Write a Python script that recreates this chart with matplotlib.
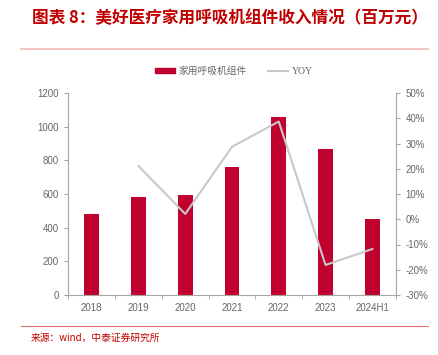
import matplotlib
matplotlib.use("Agg")
import matplotlib.pyplot as plt
from matplotlib.ticker import FuncFormatter
from matplotlib.lines import Line2D
import numpy as np

plt.rcParams['font.family'] = ['Liberation Sans', 'Noto Sans CJK SC']

# Data
years = ['2018', '2019', '2020', '2021', '2022', '2023', '2024H1']
revenue = [479, 580, 592, 762, 1057, 866, 450]        # 百万元
yoy = [None, 21.1, 2.1, 28.7, 38.7, -18.1, -11.8]       # %

BAR_COLOR = '#C0002F'
LINE_COLOR = '#C8C8C8'
AXIS_COLOR = '#A6A6A6'
TEXT_COLOR = '#666666'
RED = '#C00000'

fig = plt.figure(figsize=(4.39, 3.55), dpi=100)
ax = fig.add_axes([68.3 / 439, 60 / 355, 327.4 / 439, 202 / 355])
ax2 = ax.twinx()

x = np.arange(len(years))
ax.bar(x, revenue, width=0.32, color=BAR_COLOR, zorder=2)
ax.set_xlim(-0.5, len(years) - 0.5)
ax.set_ylim(0, 1200)
ax.set_yticks(range(0, 1201, 200))

yx = [i for i, v in enumerate(yoy) if v is not None]
yv = [v for v in yoy if v is not None]
ax2.plot(yx, yv, color=LINE_COLOR, lw=1.5, zorder=3)
ax2.set_ylim(-30, 50)
ax2.set_yticks(range(-30, 51, 10))
ax2.yaxis.set_major_formatter(FuncFormatter(lambda v, p: f'{int(v)}%'))

# x ticks: labels at centres, tick marks at category boundaries
ax.set_xticks(x)
ax.set_xticklabels(years)
ax.set_xticks(np.arange(-0.5, len(years), 1), minor=True)
ax.tick_params(axis='x', which='major', length=0, pad=6)
ax.tick_params(axis='x', which='minor', length=3, color=AXIS_COLOR)

for a in (ax, ax2):
    for s in a.spines.values():
        s.set_visible(False)
    a.tick_params(axis='y', length=3, color=AXIS_COLOR, labelsize=7,
                  labelcolor=TEXT_COLOR, pad=4)
    a.tick_params(axis='x', labelsize=7, labelcolor=TEXT_COLOR)
ax.spines['left'].set_visible(True)
ax.spines['bottom'].set_visible(True)
ax2.spines['right'].set_visible(True)
for s in (ax.spines['left'], ax.spines['bottom'], ax2.spines['right']):
    s.set_color(AXIS_COLOR)
    s.set_linewidth(0.8)

# legend
handles = [plt.Rectangle((0, 0), 1, 1, color=BAR_COLOR),
           Line2D([0], [0], color=LINE_COLOR, lw=1.5)]
fig.legend(handles, ['家用呼吸机组件', 'YOY'], loc='center',
           bbox_to_anchor=(234 / 439, 1 - 71 / 355), ncol=2, frameon=False,
           prop={'family': ['Liberation Serif', 'Noto Sans CJK SC'], 'size': 7},
           labelcolor=TEXT_COLOR, handlelength=2.0,
           handleheight=0.5, columnspacing=2.2, handletextpad=0.4)

# title, separators and source
fig.text(32 / 439, 1 - 18 / 355, '图表 8：美好医疗家用呼吸机组件收入情况（百万元）',
         color=RED, fontsize=12, fontweight='bold', va='center', ha='left',
         family=['Noto Sans CJK SC'])
fig.add_artist(Line2D([21 / 439, 428 / 439], [1 - 49 / 355] * 2,
                      color='#F2B8B8', lw=1.2))
fig.add_artist(Line2D([21 / 439, 428 / 439], [1 - 326 / 355] * 2,
                      color='#E87070', lw=0.8))
fig.text(31 / 439, 1 - 338 / 355, '来源：wind，中泰证券研究所',
         color=RED, fontsize=7, va='center', ha='left',
         family=['Noto Sans CJK SC'])

fig.savefig('out.png', dpi=100)
